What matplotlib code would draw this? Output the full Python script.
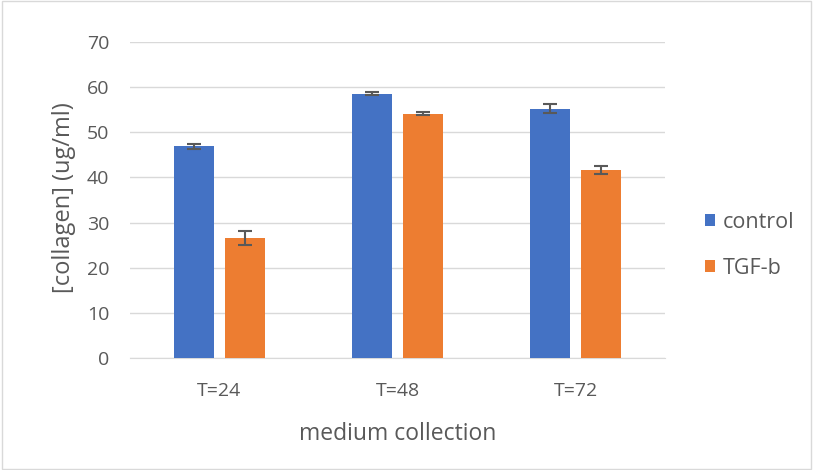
import numpy as np
import matplotlib.pyplot as plt
from matplotlib.patches import Rectangle

categories = ["T=24", "T=48", "T=72"]
control = [46.9, 58.5, 55.2]
control_err = [0.55, 0.35, 1.0]
tgfb = [26.6, 54.1, 41.6]
tgfb_err = [1.6, 0.3, 0.9]

plt.rcParams['font.family'] = ['Open Sans', 'DejaVu Sans']

fig = plt.figure(figsize=(8.13, 4.70), dpi=100)
ax = fig.add_axes([0.16, 0.238, 0.658, 0.673])
fig.patches.append(Rectangle((0.002, 0.002), 0.996, 0.996, transform=fig.transFigure,
                             fill=False, edgecolor="#D9D9D9", linewidth=1))

x = np.arange(len(categories))
w = 0.225
off = 0.143
ekw = dict(ecolor="#595959", elinewidth=1.5, capsize=5, capthick=1.5)
ax.bar(x - off, control, w, yerr=control_err, color="#4472C4", label="control",
       error_kw=ekw, zorder=3)
ax.bar(x + off, tgfb, w, yerr=tgfb_err, color="#ED7D31", label="TGF-b",
       error_kw=ekw, zorder=3)

ax.set_xlim(-0.5, 2.5)
ax.set_ylim(0, 70)
ax.set_yticks(np.arange(0, 71, 10))
ax.set_xticks(x)
ax.set_xticklabels(categories)
ax.grid(axis="y", color="#D9D9D9", linewidth=1, zorder=0)
ax.set_axisbelow(True)
for s in ["top", "right", "left"]:
    ax.spines[s].set_visible(False)
ax.spines["bottom"].set_color("#D9D9D9")
ax.tick_params(axis="both", length=0, labelsize=14, colors="#595959")
ax.tick_params(axis="x", pad=17)
ax.tick_params(axis="y", pad=15)
ax.set_xlabel("medium collection", fontsize=16.5, color="#595959", labelpad=16)
ax.set_ylabel("[collagen] (ug/ml)", fontsize=17, color="#595959")
ax.yaxis.set_label_coords(-0.102, 0.506)

ax.legend(loc="center left", bbox_to_anchor=(1.039, 0.357), frameon=False,
          fontsize=15.5, labelcolor="#595959", handlelength=0.45, handleheight=0.45,
          handletextpad=0.37, labelspacing=1.15)

fig.savefig("out.png", dpi=100)
